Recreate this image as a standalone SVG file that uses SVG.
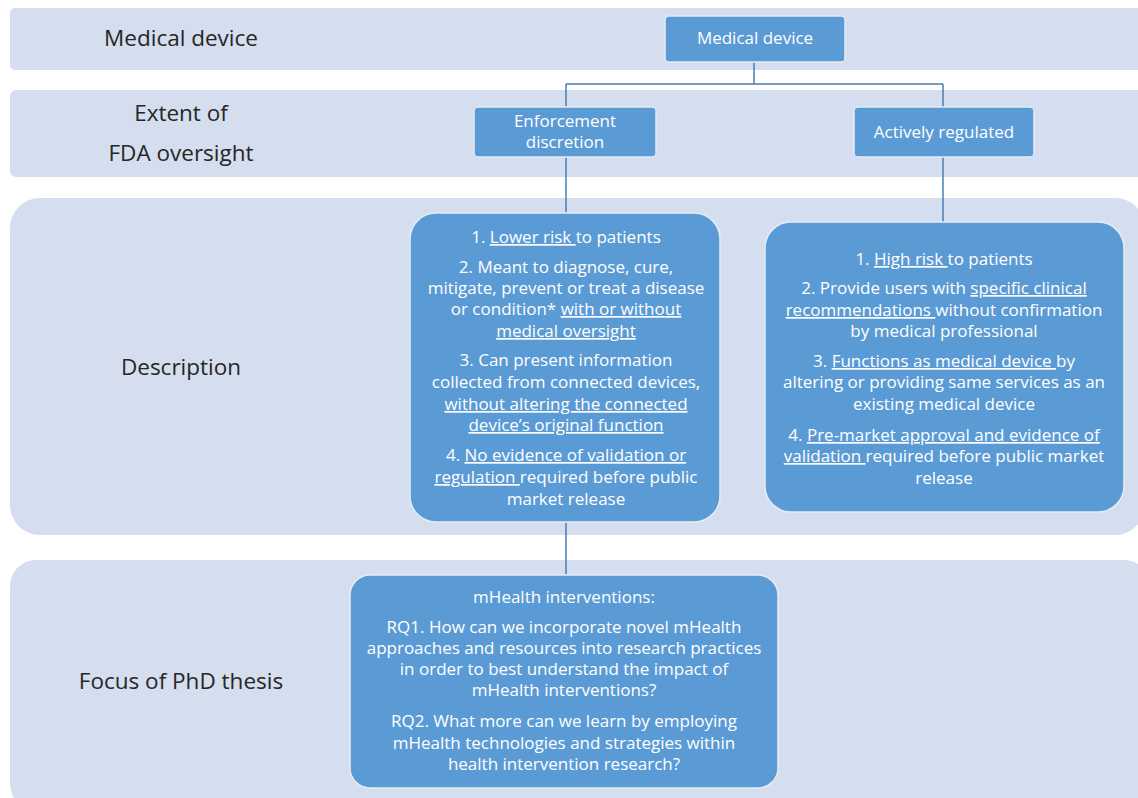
<svg xmlns="http://www.w3.org/2000/svg" width="1138" height="798" viewBox="0 0 1138 798">
  <style>
    .band { fill: #d4deee; }
    .box { fill: #5b9bd5; stroke: #e3ecf6; stroke-width: 1.5; }
    .lbl { font-family: "Open Sans", "Liberation Sans", Arial, sans-serif; font-size: 22.5px; fill: #262626; text-anchor: middle; }
    .bt { font-family: "Open Sans", "Liberation Sans", Arial, sans-serif; font-size: 17px; fill: #ffffff; text-anchor: middle; }
    .u { text-decoration: underline; }
    .conn { fill: none; stroke: #4a7eb0; stroke-width: 1.5; }
  </style>

  <rect width="1138" height="798" fill="#ffffff"/>

  <!-- row bands -->
  <g id="band-device">
    <rect class="band" x="10" y="8" width="1140" height="62" rx="5"/>
    <text class="lbl" x="181" y="46">Medical device</text>
  </g>
  <g id="band-oversight">
    <rect class="band" x="10" y="90" width="1140" height="87" rx="6"/>
    <text class="lbl" x="181" y="121">Extent of</text>
    <text class="lbl" x="181" y="161">FDA oversight</text>
  </g>
  <g id="band-description">
    <rect class="band" x="10" y="198" width="1135" height="337" rx="30"/>
    <text class="lbl" x="181" y="375">Description</text>
  </g>
  <g id="band-focus">
    <rect class="band" x="10" y="560" width="1140" height="250" rx="26"/>
    <text class="lbl" x="181" y="689">Focus of PhD thesis</text>
  </g>

  <!-- connectors -->
  <g id="connectors">
    <path class="conn" d="M754 62 V84 M566 84 H943 M566 84 V107 M943 84 V107"/>
    <path class="conn" d="M566 157 V213"/>
    <path class="conn" d="M943 157 V222"/>
    <path class="conn" d="M566 522 V575"/>
  </g>

  <g id="node-medical-device">
    <rect class="box" x="665" y="16" width="180" height="46" rx="4"/>
    <text class="bt" x="755" y="44">Medical device</text>
  </g>

  <g id="node-enforcement">
    <rect class="box" x="474" y="107" width="182" height="50" rx="4"/>
    <text class="bt" x="565" y="127">Enforcement</text>
    <text class="bt" x="565" y="148">discretion</text>
  </g>

  <g id="node-regulated">
    <rect class="box" x="854" y="107" width="180" height="50" rx="4"/>
    <text class="bt" x="944" y="138">Actively regulated</text>
  </g>

  <g id="node-enforcement-desc">
    <rect class="box" x="410" y="213" width="310" height="309" rx="26"/>
    <text class="bt" x="566" y="243">1. <tspan class="u">Lower risk </tspan>to patients</text>
    <text class="bt" x="566" y="273">2. Meant to diagnose, cure,</text>
    <text class="bt" x="566" y="294">mitigate, prevent or treat a disease</text>
    <text class="bt" x="566" y="315">or condition* <tspan class="u">with or without</tspan></text>
    <text class="bt" x="566" y="337"><tspan class="u">medical oversight</tspan></text>
    <text class="bt" x="566" y="366">3. Can present information</text>
    <text class="bt" x="566" y="388">collected from connected devices,</text>
    <text class="bt" x="566" y="410"><tspan class="u">without altering the connected</tspan></text>
    <text class="bt" x="566" y="431"><tspan class="u">device’s original function</tspan></text>
    <text class="bt" x="566" y="461">4. <tspan class="u">No evidence of validation or</tspan></text>
    <text class="bt" x="566" y="483"><tspan class="u">regulation </tspan>required before public</text>
    <text class="bt" x="566" y="505">market release</text>
  </g>

  <g id="node-regulated-desc">
    <rect class="box" x="765" y="222" width="359" height="290" rx="26"/>
    <text class="bt" x="944" y="265">1. <tspan class="u">High risk </tspan>to patients</text>
    <text class="bt" x="944" y="294">2. Provide users with <tspan class="u">specific clinical</tspan></text>
    <text class="bt" x="944" y="316"><tspan class="u">recommendations </tspan>without confirmation</text>
    <text class="bt" x="944" y="337">by medical professional</text>
    <text class="bt" x="944" y="367">3. <tspan class="u">Functions as medical device </tspan>by</text>
    <text class="bt" x="944" y="388">altering or providing same services as an</text>
    <text class="bt" x="944" y="410">existing medical device</text>
    <text class="bt" x="944" y="441">4. <tspan class="u">Pre-market approval and evidence of</tspan></text>
    <text class="bt" x="944" y="462"><tspan class="u">validation </tspan>required before public market</text>
    <text class="bt" x="944" y="484">release</text>
  </g>

  <g id="node-focus">
    <rect class="box" x="350" y="575" width="428" height="213" rx="20"/>
    <text class="bt" x="564" y="603">mHealth interventions:</text>
    <text class="bt" x="564" y="633">RQ1. How can we incorporate novel mHealth</text>
    <text class="bt" x="564" y="654">approaches and resources into research practices</text>
    <text class="bt" x="564" y="675">in order to best understand the impact of</text>
    <text class="bt" x="564" y="696">mHealth interventions?</text>
    <text class="bt" x="564" y="727">RQ2. What more can we learn by employing</text>
    <text class="bt" x="564" y="749">mHealth technologies and strategies within</text>
    <text class="bt" x="564" y="770">health intervention research?</text>
  </g>
</svg>
